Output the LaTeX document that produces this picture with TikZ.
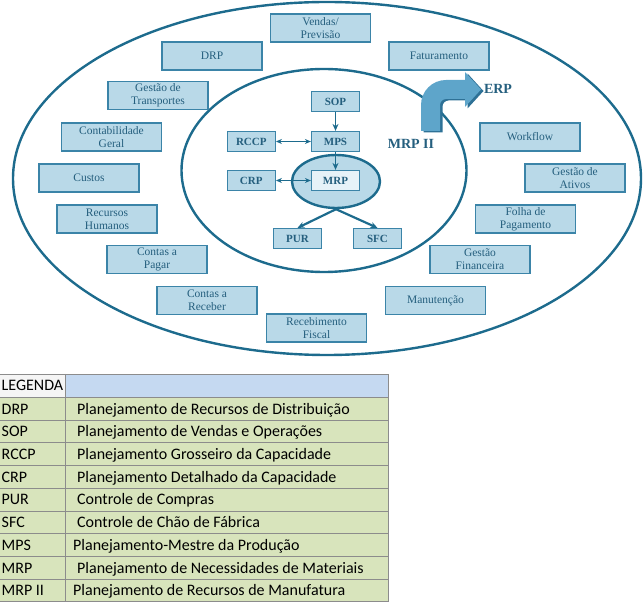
\documentclass[tikz,border=0pt]{standalone}
\usepackage{fontspec}
\setmainfont{Liberation Serif}
\newfontfamily\legfont{Carlito}
\usetikzlibrary{arrows.meta,shapes.geometric,positioning}

\definecolor{ringblue}{HTML}{1D6B8D}
\definecolor{boxfill}{HTML}{B9D9E8}
\definecolor{boxline}{HTML}{3B84A8}
\definecolor{txtblue}{HTML}{255F7E}
\definecolor{mrpfill}{HTML}{E6F2F8}
\definecolor{erpfill}{HTML}{5EA5CA}
\definecolor{erpdark}{HTML}{2E7196}
\definecolor{leghead}{HTML}{C5D9F1}
\definecolor{legbody}{HTML}{D8E4BC}
\definecolor{leggrid}{HTML}{8C8C8C}

\tikzset{
  modbox/.style={draw=boxline, fill=boxfill, line width=1.2pt, minimum width=100pt,
    minimum height=28pt, inner sep=1pt, align=center, text=txtblue,
    font=\fontsize{11.5}{13}\selectfont},
  corebox/.style={modbox, minimum width=48pt, minimum height=20pt,
    font=\fontsize{11}{13}\selectfont\bfseries},
  ring/.style={draw=ringblue, line width=2.4pt},
  flow/.style={draw=ringblue, line width=1.4pt, -{Stealth[length=7pt,width=6pt]}},
  both/.style={flow, line width=1pt, {Stealth[length=6pt,width=5pt]}-{Stealth[length=6pt,width=5pt]}},
  legtext/.style={inner sep=0pt, anchor=base west, font=\legfont\fontsize{16}{19}\selectfont},
}

\begin{document}
\begin{tikzpicture}[x=1pt, y=-1pt]
 \useasboundingbox (0,0) rectangle (643,609);
 %
 % ERP and MRP II rings
 \draw[ring] (327,178.5) ellipse [x radius=314pt, y radius=176.5pt];
 \draw[ring] (324,170.5) ellipse [x radius=142.5pt, y radius=101.5pt];
 \node[ring, fill=boxfill, ellipse, minimum width=88pt, minimum height=53pt, inner sep=0pt] (mrpring) at (336,181.5) {};
 %
 % ERP modules
 \node[modbox] (vendas) at (320.5,28) {Vendas/\\Previsão};
 \node[modbox] (drp) at (212,56) {DRP};
 \node[modbox] (fatur) at (439,56) {Faturamento};
 \node[modbox] (transp) at (158,95.5) {Gestão de\\Transportes};
 \node[modbox] (contab) at (111.5,137) {Contabilidade\\Geral};
 \node[modbox] (custos) at (89,178) {Custos};
 \node[modbox] (workfl) at (530,137) {Workflow};
 \node[modbox] (ativos) at (575,178) {Gestão de\\Ativos};
 \node[modbox] (rh) at (107,219) {Recursos\\Humanos};
 \node[modbox] (folha) at (525.5,219) {Folha de\\Pagamento};
 \node[modbox] (pagar) at (157,259.5) {Contas a\\Pagar};
 \node[modbox] (financ) at (480,259.5) {Gestão\\Financeira};
 \node[modbox] (receber) at (207,300.5) {Contas a\\Receber};
 \node[modbox] (manut) at (435.5,300.5) {Manutenção};
 \node[modbox] (fiscal) at (316.5,328) {Recebimento\\Fiscal};
 %
 % MRP II core
 \node[corebox] (sop) at (335.5,101.5) {SOP};
 \node[corebox] (mps) at (335.5,141.5) {MPS};
 \node[corebox, fill=mrpfill] (mrp) at (335.5,180.5) {MRP};
 \node[corebox, left=35pt of mps] (rccp) {RCCP};
 \node[corebox, left=35pt of mrp] (crp) {CRP};
 \node[corebox] (pur) at (297.5,238.5) {PUR};
 \node[corebox] (sfc) at (377.5,238.5) {SFC};
 %
 \draw[flow] (sop) -- (mps);
 \draw[flow] (mps) -- (mrp);
 \draw[both] (rccp) -- (mps);
 \draw[both] (crp) -- (mrp);
 \draw[flow, line width=2.2pt] (mrpring.south) -- (pur.north);
 \draw[flow, line width=2.2pt] (mrpring.south) -- (sfc.north);
 %
 % bent arrow MRP II -> ERP
 \foreach \dx/\dy/\col in {2.5/1.5/erpdark, 0/0/erpfill}
   \fill[\col, shift={(\dx,\dy)}] (421,131) -- (421,105)
     .. controls (421,91.2) and (432.2,80) .. (446,80) -- (465,80) -- (465,72)
     -- (481,89.5) -- (465,107) -- (465,99) -- (446,99)
     .. controls (442.7,99) and (440,101.7) .. (440,105) -- (440,131) -- cycle;
 \node[text=txtblue, font=\fontsize{14}{16}\selectfont\bfseries] (erp) at (498,89) {ERP};
 \node[text=txtblue, font=\fontsize{14}{16}\selectfont\bfseries] (mrpii) at (411,144) {MRP II};
 %
 % legend table
 \fill[black!4] (0,374) rectangle (65,397.5);
 \fill[leghead] (65,374) rectangle (388,397.5);
 \fill[legbody] (0,397.5) rectangle (388,601.8);
 \draw[leggrid, line width=0.8pt] (0,374) -- (388,374);
 \foreach \k in {0,...,9}
   \draw[leggrid, line width=0.8pt] (0,{397.5+\k*22.7}) -- (388,{397.5+\k*22.7});
 \draw[leggrid, line width=0.8pt] (65,374) -- (65,601.8);
 \draw[leggrid, line width=0.8pt] (388,374) -- (388,601.8);
 \node[legtext] (legtitle) at (1.5,391) {LEGENDA};
 \foreach \ab/\desc/\dx [count=\k] in {
   DRP/Planejamento de Recursos de Distribuição/77,
   SOP/Planejamento de Vendas e Operações/77,
   RCCP/Planejamento Grosseiro da Capacidade/77,
   CRP/Planejamento Detalhado da Capacidade/77,
   PUR/Controle de Compras/77,
   SFC/Controle de Chão de Fábrica/77,
   MPS/Planejamento-Mestre da Produção/73,
   MRP/Planejamento de Necessidades de Materiais/77,
   MRP II/Planejamento de Recursos de Manufatura/73}
 {
   \node[legtext] (ab\k) at (1.5,{397.5+(\k-0.5)*22.7+5.3}) {\ab};
   \node[legtext] (desc\k) at (\dx,{397.5+(\k-0.5)*22.7+5.3}) {\desc};
 }
\end{tikzpicture}
\end{document}
